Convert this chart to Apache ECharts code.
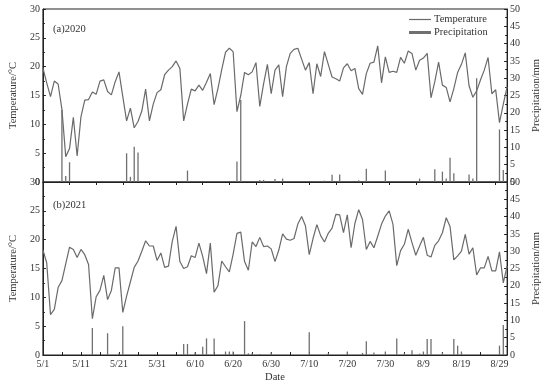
<!DOCTYPE html>
<html><head><meta charset="utf-8">
<script src="https://cdn.jsdelivr.net/npm/echarts@6/dist/echarts.min.js"></script>
<style>html,body{margin:0;padding:0;background:#fff}#c{width:550px;height:387px}</style>
</head><body><div id="c"></div>
<script>
// ---- data ----
const temp2020 = [19.8,17.2,14.8,17.5,17.0,12.6,4.4,5.8,11.2,4.5,11.3,14.2,14.3,15.6,15.2,17.5,17.7,15.7,15.1,17.4,
19.1,14.8,10.6,12.8,9.4,10.5,12.3,16.1,10.6,13.5,15.5,16.0,18.6,19.4,20.0,21.0,19.7,10.6,13.5,16.1,
15.8,16.8,15.9,17.3,18.8,13.4,16.2,19.5,22.5,23.2,22.6,12.2,15.0,19.0,18.6,19.1,20.7,13.1,17.0,20.4,
15.3,19.4,20.3,14.8,20.0,22.3,23.0,23.2,21.3,19.4,20.7,15.3,20.5,18.3,22.6,20.4,18.2,17.9,17.5,19.8,
20.5,19.3,19.7,16.2,15.2,18.8,20.6,20.8,23.6,17.2,21.7,19.0,19.2,19.0,21.6,20.6,22.7,22.3,19.4,21.1,
21.5,22.3,14.6,17.4,20.8,16.8,16.4,13.9,16.2,19.0,20.4,22.4,16.7,14.7,15.8,17.7,19.4,21.6,15.3,16.0,
10.3,13.5,16.5];
const temp2021 = [18.2,16.0,7.0,7.9,11.7,12.9,15.8,18.7,18.3,16.9,18.3,17.4,15.7,6.3,10.1,11.2,13.8,9.6,11.2,15.1,
15.1,7.4,10.2,12.7,15.2,16.3,18.0,19.8,18.9,18.9,16.4,17.7,15.2,15.4,19.7,22.3,16.2,15.0,15.3,17.2,
16.9,19.4,17.1,14.1,19.4,10.9,12.0,16.3,15.3,14.4,17.5,21.1,21.3,16.2,14.7,19.6,18.8,20.4,18.8,18.9,
18.4,16.2,18.2,21.0,20.1,19.9,20.2,22.7,24.0,22.4,17.4,20.2,22.6,20.7,19.6,21.1,22.0,24.4,24.3,21.2,
24.3,18.6,22.8,25.2,23.5,18.3,19.7,18.6,20.6,22.7,24.1,25.0,22.7,15.5,18.1,19.2,21.8,19.5,17.3,18.9,
20.4,17.3,17.0,19.0,19.8,21.2,23.8,22.3,16.5,17.2,18.0,20.9,17.5,18.6,13.9,15.1,15.1,17.1,14.6,14.6,
17.9,12.5,15.4];
// [day index, mm]
const precip2020 = [[5,20.8],[6,1.7],[7,5.7],[22,8.3],[23,1.5],[24,10.2],[25,8.5],[38,3.3],[51,5.9],[52,23.7],
[57,0.6],[58,0.6],[61,0.9],[63,1.0],[74,0.4],[76,2.1],[78,2.2],[83,0.5],[85,3.8],[90,3.3],[99,1.0],
[103,3.7],[105,3.0],[106,1.0],[107,7.0],[108,2.5],[112,2.2],[113,1.0],[114,30.0],[120,15.2],[121,3.5]];
const precip2021 = [[13,7.8],[17,6.3],[20,0.5],[21,8.3],[37,3.2],[38,3.2],[40,0.8],[42,2.4],[43,4.8],[45,4.8],
[48,1.0],[49,1.0],[50,1.0],[53,9.8],[54,0.5],[55,0.5],[57,0.3],[60,0.8],[70,6.6],[75,0.5],[80,1.0],
[84,0.6],[85,4.0],[87,0.7],[90,1.0],[93,4.8],[95,0.5],[97,1.4],[99,0.4],[100,1.0],[101,4.6],[102,4.6],
[105,0.7],[108,4.6],[109,2.7],[110,1.0],[120,2.7],[121,8.7]];
const months = [5,6,7,8];
const monthDays = [31,30,31,31];
const panelLabels = ['(a)2020','(b)2021'];

const days = [];
months.forEach((m,i)=>{for(let d=1; d<=monthDays[i]; d++) days.push(m+'/'+d);});

const FF = "'Liberation Serif','DejaVu Serif',serif";
const TXT = '#333';
const AX = '#222';
const LINE = '#6a6a6a';

function yLeft(gi, name){
  return {type:'value', gridIndex:gi, min:0, max:30, interval:5, position:'left',
    name:name, nameLocation:'middle', nameGap:14, nameTextStyle:{fontFamily:FF, fontSize:10.5, color:TXT},
    axisLine:{show:true, lineStyle:{color:AX}}, axisTick:{show:true, inside:true, length:3, lineStyle:{color:AX}},
    minorTick:{show:true, splitNumber:2, length:2, lineStyle:{color:AX}},
    axisLabel:{fontFamily:FF, fontSize:10, color:TXT, margin:3}, splitLine:{show:false}};
}
function yRight(gi, name){
  return {type:'value', gridIndex:gi, min:0, max:50, interval:5, position:'right',
    name:name, nameLocation:'middle', nameGap:16, nameTextStyle:{fontFamily:FF, fontSize:10.5, color:TXT},
    axisLine:{show:true, lineStyle:{color:AX}}, axisTick:{show:true, inside:true, length:3, lineStyle:{color:AX}},
    minorTick:{show:true, splitNumber:2, length:2, lineStyle:{color:AX}},
    axisLabel:{fontFamily:FF, fontSize:10, color:TXT, margin:3}, splitLine:{show:false}};
}

const option = {
  animation:false,
  backgroundColor:'#fff',
  title: panelLabels.map((t,i)=>({text:t, left:48, top: i===0 ? 19 : 195,
    textStyle:{fontFamily:FF, fontSize:10.5, fontWeight:'normal', color:TXT}})),
  legend:[
    {data:['Temperature'], left:409, top:14, padding:0, icon:'rect', itemWidth:22, itemHeight:1.2,
      itemGap:0, textStyle:{fontFamily:FF, fontSize:10.5, color:TXT, padding:[0,0,0,-2]}},
    {data:['Precipitation'], left:409, top:27, padding:0, icon:'rect', itemWidth:22, itemHeight:3,
      itemGap:0, textStyle:{fontFamily:FF, fontSize:10.5, color:TXT, padding:[0,0,0,-2]}}
  ],
  grid:[
    {left:30, right:30, top:9, height:173, show:true, borderColor:AX, borderWidth:1, backgroundColor:'transparent'},
    {left:30, right:30, top:182, height:173, show:true, borderColor:AX, borderWidth:1, backgroundColor:'transparent'}
  ],
  xAxis:[
    {type:'category', gridIndex:0, data:days, boundaryGap:false, position:'top',
      axisLine:{show:true, lineStyle:{color:AX}}, axisTick:{show:true, inside:true, length:3, interval:6, lineStyle:{color:AX}},
      axisLabel:{show:false}, splitLine:{show:false}},
    {type:'category', gridIndex:1, data:days, boundaryGap:false, position:'bottom',
      name:'Date', nameLocation:'middle', nameGap:17, nameTextStyle:{fontFamily:FF, fontSize:10.5, color:TXT},
      axisLine:{show:true, lineStyle:{color:AX}}, axisTick:{show:true, inside:true, length:3, interval:4, lineStyle:{color:AX}},
      axisLabel:{interval:9, fontFamily:FF, fontSize:10, color:TXT, margin:4}, splitLine:{show:false}}
  ],
  yAxis:[
    yLeft(0,'Temperature/°C'), yRight(0,'Precipitation/mm'),
    yLeft(1,'Temperature/°C'), yRight(1,'Precipitation/mm')
  ],
  series:[
    {name:'Temperature', type:'line', xAxisIndex:0, yAxisIndex:0, data:temp2020, symbol:'none',
      lineStyle:{color:LINE, width:1.2}, itemStyle:{color:LINE}},
    {name:'Precipitation', type:'bar', xAxisIndex:0, yAxisIndex:1, data:precip2020, barWidth:1.3,
      itemStyle:{color:'#707070'}},
    {name:'Temperature', type:'line', xAxisIndex:1, yAxisIndex:2, data:temp2021, symbol:'none',
      lineStyle:{color:LINE, width:1.2}, itemStyle:{color:LINE}},
    {name:'Precipitation', type:'bar', xAxisIndex:1, yAxisIndex:3, data:precip2021, barWidth:1.3,
      itemStyle:{color:'#707070'}}
  ]
};
const chart = echarts.init(document.getElementById('c'), null, {renderer:'canvas'});
chart.setOption(option);
</script></body></html>
